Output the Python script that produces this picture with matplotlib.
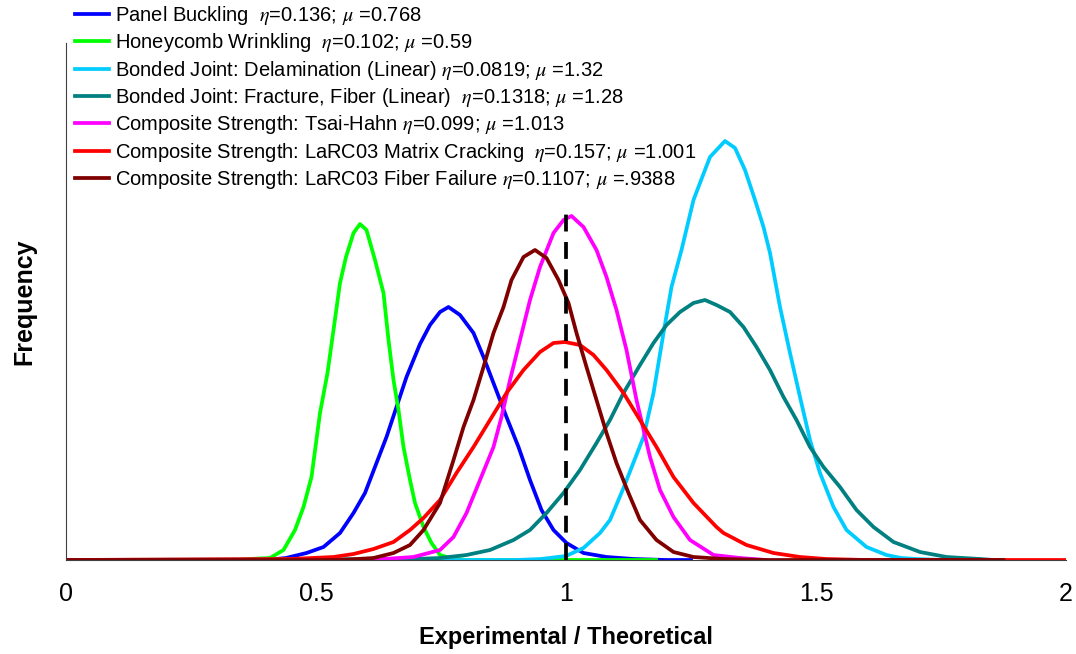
import matplotlib
matplotlib.use("Agg")
import matplotlib.pyplot as plt

plt.rcParams['font.family'] = ['Liberation Sans', 'DejaVu Sans']
plt.rcParams['mathtext.fontset'] = 'stix'

# ---- data (y = relative frequency) ----
pb_x = [0, 0.40, 0.44, 0.481, 0.515, 0.548, 0.575, 0.598, 0.621, 0.641, 0.661, 0.681, 0.708, 0.728, 0.748,
        0.765, 0.788, 0.815, 0.835, 0.858, 0.881, 0.905, 0.928, 0.951, 0.975, 1.001, 1.035, 1.081, 1.135, 1.2, 1.25]
pb_y = [0, 0, 2, 7, 13, 27, 47, 67, 97, 123, 153, 183, 216, 235, 248,
        253, 245, 227, 203, 173, 143, 113, 80, 50, 30, 17, 7, 3, 1, 0, 0]

hw_x = [0, 0.35, 0.368, 0.408, 0.435, 0.458, 0.475, 0.491, 0.508, 0.523, 0.535, 0.548, 0.56, 0.575, 0.588,
        0.601, 0.618, 0.635, 0.645, 0.655, 0.665, 0.675, 0.688, 0.698, 0.715, 0.731, 0.748, 0.768, 0.80, 1.18]
hw_y = [0, 0, 1, 2, 10, 30, 53, 83, 147, 187, 230, 277, 303, 327, 336,
        330, 300, 267, 220, 180, 150, 113, 80, 57, 33, 17, 5, 2, 0, 0]

dl_x = [0, 0.90, 0.95, 1.0, 1.035, 1.068, 1.088, 1.115, 1.155, 1.175, 1.195, 1.211, 1.231, 1.255, 1.268,
        1.288, 1.318, 1.338, 1.358, 1.378, 1.395, 1.408, 1.428, 1.448, 1.468, 1.488, 1.508, 1.535, 1.561,
        1.601, 1.641, 1.67, 1.70, 1.75]
dl_y = [0, 0, 1, 4, 12, 27, 40, 72, 123, 167, 227, 273, 310, 360, 377,
        403, 419, 412, 390, 360, 333, 307, 253, 207, 163, 120, 87, 53, 30,
        13, 5, 2, 1, 0]

ff_x = [0, 0.70, 0.748, 0.801, 0.848, 0.895, 0.928, 0.961, 0.995, 1.028, 1.061, 1.088, 1.115, 1.148, 1.175,
        1.201, 1.228, 1.255, 1.278, 1.301, 1.328, 1.355, 1.381, 1.408, 1.435, 1.461, 1.488, 1.515, 1.548,
        1.581, 1.615, 1.655, 1.708, 1.761, 1.828, 1.855]
ff_y = [0, 1, 2, 5, 10, 20, 30, 47, 67, 90, 117, 140, 167, 195, 217,
        235, 248, 257, 260, 255, 248, 233, 213, 190, 163, 140, 113, 93, 73,
        50, 33, 18, 8, 3, 1, 0]

th_x = [0, 0.60, 0.635, 0.695, 0.748, 0.775, 0.801, 0.828, 0.855, 0.871, 0.888, 0.908, 0.928, 0.948, 0.975,
        0.995, 1.011, 1.035, 1.061, 1.081, 1.101, 1.121, 1.141, 1.168, 1.188, 1.215, 1.248, 1.295, 1.348, 1.40]
th_y = [0, 0, 1, 3, 10, 23, 47, 80, 113, 143, 180, 220, 260, 293, 327,
        340, 344, 333, 310, 283, 250, 210, 160, 103, 70, 43, 20, 5, 2, 0]

mc_x = [0, 0.45, 0.535, 0.575, 0.615, 0.655, 0.688, 0.715, 0.748, 0.781, 0.815, 0.848, 0.881, 0.915, 0.948,
        0.975, 0.998, 1.028, 1.055, 1.081, 1.115, 1.148, 1.181, 1.215, 1.255, 1.301, 1.315, 1.361, 1.415,
        1.468, 1.52, 1.6, 2.0]
mc_y = [0, 1, 3, 6, 11, 18, 30, 42, 60, 87, 113, 140, 167, 190, 208,
        217, 218, 215, 205, 190, 167, 140, 113, 83, 57, 33, 27, 15, 7,
        3, 1, 0, 0]

fb_x = [0, 0.55, 0.615, 0.655, 0.688, 0.715, 0.748, 0.775, 0.795, 0.815, 0.835, 0.855, 0.875, 0.891, 0.915,
        0.938, 0.961, 0.985, 1.005, 1.021, 1.041, 1.061, 1.081, 1.101, 1.125, 1.148, 1.181, 1.215, 1.255,
        1.315, 1.40, 1.875]
fb_y = [0, 0, 2, 7, 15, 30, 57, 100, 133, 160, 193, 227, 253, 280, 303,
        310, 302, 280, 257, 227, 193, 160, 127, 97, 67, 40, 20, 8, 3,
        1, 0, 0]

ref_x = [1.0, 1.0]
ref_y = [0, 353]

labels = [
    r'Panel Buckling  $\eta$=0.136; $\mu$ =0.768',
    r'Honeycomb Wrinkling  $\eta$=0.102; $\mu$ =0.59',
    r'Bonded Joint: Delamination (Linear) $\eta$=0.0819; $\mu$ =1.32',
    r'Bonded Joint: Fracture, Fiber (Linear)  $\eta$=0.1318; $\mu$ =1.28',
    r'Composite Strength: Tsai-Hahn $\eta$=0.099; $\mu$ =1.013',
    r'Composite Strength: LaRC03 Matrix Cracking  $\eta$=0.157; $\mu$ =1.001',
    r'Composite Strength: LaRC03 Fiber Failure $\eta$=0.1107; $\mu$ =.9388',
]
colors = ['#0000FF', '#00FF00', '#00CCFF', '#008080', '#FF00FF', '#FF0000', '#800000']
series = [(pb_x, pb_y), (hw_x, hw_y), (dl_x, dl_y), (ff_x, ff_y), (th_x, th_y), (mc_x, mc_y), (fb_x, fb_y)]

fig = plt.figure(figsize=(10.76, 6.54), dpi=100)
ax = fig.add_axes([66/1076, 1 - 560/654, 1000/1076, 517/654])

handles = []
for (xs, ys), c, lab in zip(series, colors, labels):
    h, = ax.plot(xs, ys, color=c, lw=2.7, label=lab, solid_joinstyle='round')
    handles.append(h)

ax.plot(ref_x, ref_y, color='black', lw=2.7, linestyle=(0, (4.5, 2.8)))

ax.set_xlim(0, 2)
ax.set_ylim(0, 517)
ax.set_xticks([0, 0.5, 1, 1.5, 2])
ax.set_xticklabels(['0', '0.5', '1', '1.5', '2'])
ax.set_yticks([])
ax.tick_params(axis='x', length=0, pad=16, labelsize=18)
for s in ['top', 'right']:
    ax.spines[s].set_visible(False)
ax.spines['left'].set_color('#404040')
ax.spines['left'].set_linewidth(0.8)
ax.spines['bottom'].set_color('#404040')
ax.spines['bottom'].set_linewidth(0.8)

ax.set_xlabel('Experimental / Theoretical', fontsize=17, fontweight='bold', labelpad=14)
ax.set_ylabel('Frequency', fontsize=18, fontweight='bold', labelpad=21)

fig.legend(handles=handles, labels=labels, loc='upper left', bbox_to_anchor=(75/1076, 1 - 4/654),
           frameon=False, fontsize=14.5, handlelength=1.7, handletextpad=0.28, labelspacing=0.215,
           borderpad=0, borderaxespad=0)

fig.savefig('out.png', dpi=100)
